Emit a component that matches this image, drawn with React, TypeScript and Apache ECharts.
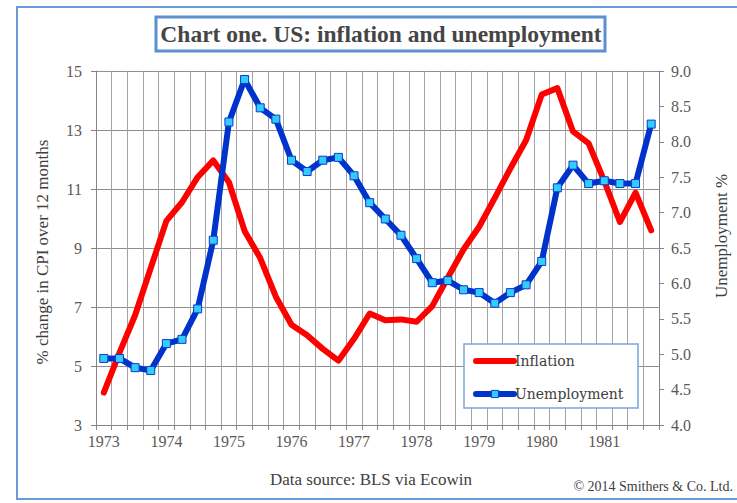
import React, { useEffect, useRef } from "react";
import * as echarts from "echarts";

const categories = [
  "1973 Q1", "1973 Q2", "1973 Q3", "1973 Q4",
  "1974 Q1", "1974 Q2", "1974 Q3", "1974 Q4",
  "1975 Q1", "1975 Q2", "1975 Q3", "1975 Q4",
  "1976 Q1", "1976 Q2", "1976 Q3", "1976 Q4",
  "1977 Q1", "1977 Q2", "1977 Q3", "1977 Q4",
  "1978 Q1", "1978 Q2", "1978 Q3", "1978 Q4",
  "1979 Q1", "1979 Q2", "1979 Q3", "1979 Q4",
  "1980 Q1", "1980 Q2", "1980 Q3", "1980 Q4",
  "1981 Q1", "1981 Q2", "1981 Q3", "1981 Q4",
];

const inflation = [
  4.1, 5.45, 6.72, 8.32, 9.92, 10.55, 11.4, 11.97, 11.23, 9.58, 8.66, 7.35,
  6.4, 6.04, 5.58, 5.18, 5.92, 6.78, 6.55, 6.58, 6.5, 7.03, 8.0, 8.95,
  9.72, 10.7, 11.7, 12.65, 14.2, 14.42, 12.95, 12.55, 11.27, 9.88, 10.88, 9.6,
];

const unemployment = [
  4.94, 4.94, 4.81, 4.77, 5.15, 5.21, 5.64, 6.61, 8.28, 8.88, 8.48, 8.32,
  7.74, 7.58, 7.74, 7.78, 7.52, 7.14, 6.91, 6.68, 6.35, 6.01, 6.04, 5.91,
  5.87, 5.72, 5.87, 5.98, 6.31, 7.35, 7.67, 7.41, 7.45, 7.41, 7.41, 8.25,
];

const leftTicks = { min: 3, max: 15, interval: 2 };
const rightTicks = { min: 4, max: 9, interval: 0.5 };

const titleText = "Chart one. US: inflation and unemployment";
const leftAxisName = "% change in CPI over 12 months";
const rightAxisName = "Unemployment %";
const sourceText = "Data source: BLS via Ecowin";
const copyrightText = "\u00a9 2014 Smithers & Co. Ltd.";

const SERIF = "'Liberation Serif', 'Times New Roman', serif";

export default function App() {
  const ref = useRef<HTMLDivElement>(null);

  useEffect(() => {
    if (!ref.current) return;
    const chart = echarts.init(ref.current, undefined, { renderer: "svg" });
    const axisText = { color: "#595959", fontFamily: SERIF, fontSize: 16 };
    chart.setOption({
      animation: false,
      backgroundColor: "#ffffff",
      grid: { left: 96, right: 78, top: 71, bottom: 78, containLabel: false },
      legend: {
        left: 473,
        top: 354,
        orient: "vertical",
        itemWidth: 38,
        itemHeight: 9,
        itemGap: 19,
        padding: 0,
        textStyle: { color: "#404040", fontFamily: "'DejaVu Serif', serif", fontSize: 14, padding: [0, 0, 0, -4] },
        data: [
          {
            name: "Inflation",
            itemStyle: { color: "rgba(0,0,0,0)", borderColor: "rgba(0,0,0,0)", borderWidth: 0 },
            lineStyle: { color: "#ff0000", width: 6, cap: "round" },
          },
          {
            name: "Unemployment",
            itemStyle: { color: "#33ccff", borderColor: "#0a3cc8", borderWidth: 1 },
            lineStyle: { color: "#0033cc", width: 6, cap: "round" },
          },
        ],
      },
      xAxis: {
        type: "category",
        data: categories,
        boundaryGap: true,
        axisLine: { lineStyle: { color: "#868686", width: 1 } },
        axisTick: { show: true, interval: 0, length: 5, lineStyle: { color: "#868686" } },
        splitLine: { show: true, interval: 0, lineStyle: { color: "#a3a3a3", width: 1 } },
        axisLabel: {
          interval: 3,
          margin: 8,
          ...axisText,
          formatter: (v: string) => v.slice(0, 4),
        },
      },
      yAxis: [
        {
          type: "value",
          min: leftTicks.min,
          max: leftTicks.max,
          interval: leftTicks.interval,
          axisLine: { show: true, lineStyle: { color: "#868686" } },
          axisTick: { show: true, length: 5, lineStyle: { color: "#868686" } },
          splitLine: { show: true, lineStyle: { color: "#8f8f8f", width: 1 } },
          axisLabel: { margin: 14, ...axisText },
        },
        {
          type: "value",
          position: "right",
          min: rightTicks.min,
          max: rightTicks.max,
          interval: rightTicks.interval,
          axisLine: { show: true, lineStyle: { color: "#868686" } },
          axisTick: { show: true, length: 5, lineStyle: { color: "#868686" } },
          splitLine: { show: false },
          axisLabel: {
            margin: 12,
            ...axisText,
            formatter: (v: number) => v.toFixed(1),
          },
        },
      ],
      series: [
        {
          name: "Inflation",
          type: "line",
          yAxisIndex: 0,
          data: inflation,
          symbol: "none",
          color: "#ff0000",
          lineStyle: { color: "#ff0000", width: 6, cap: "round", join: "round" },
          z: 2,
        },
        {
          name: "Unemployment",
          type: "line",
          yAxisIndex: 1,
          data: unemployment,
          symbol: "rect",
          symbolSize: 8,
          showAllSymbol: true,
          color: "#0033cc",
          lineStyle: { color: "#0033cc", width: 6, cap: "round", join: "round" },
          itemStyle: { color: "#33ccff", borderColor: "#0a3cc8", borderWidth: 1 },
          z: 3,
        },
      ],
      graphic: [
        {
          type: "rect",
          z: -1,
          shape: { x: 17, y: 7, width: 740, height: 492 },
          style: { fill: "none", stroke: "#6a9bd6", lineWidth: 2 },
        },
        {
          type: "rect",
          z: 5,
          shape: { x: 156, y: 17, width: 449, height: 34 },
          style: { fill: "#ffffff", stroke: "#5b8fd0", lineWidth: 3 },
        },
        {
          type: "text",
          z: 6,
          x: 381,
          y: 34,
          style: {
            text: titleText,
            fill: "#454545",
            fontFamily: SERIF,
            fontSize: 23.5,
            fontWeight: "bold",
            align: "center",
            verticalAlign: "middle",
          },
        },
        {
          type: "text",
          z: 6,
          x: 42,
          y: 252,
          rotation: Math.PI / 2,
          style: {
            text: leftAxisName,
            fill: "#404040",
            fontFamily: SERIF,
            fontSize: 17,
            align: "center",
            verticalAlign: "middle",
          },
        },
        {
          type: "text",
          z: 6,
          x: 721,
          y: 236,
          rotation: Math.PI / 2,
          style: {
            text: rightAxisName,
            fill: "#404040",
            fontFamily: SERIF,
            fontSize: 17,
            align: "center",
            verticalAlign: "middle",
          },
        },
        {
          type: "rect",
          z: 3,
          shape: { x: 464, y: 344, width: 174, height: 64 },
          style: { fill: "#ffffff", stroke: "#7aa7dc", lineWidth: 1.5 },
        },
        {
          type: "text",
          z: 6,
          x: 371,
          y: 479,
          style: {
            text: sourceText,
            fill: "#404040",
            fontFamily: SERIF,
            fontSize: 17,
            align: "center",
            verticalAlign: "middle",
          },
        },
        {
          type: "text",
          z: 6,
          x: 733,
          y: 486,
          style: {
            text: copyrightText,
            fill: "#404040",
            fontFamily: SERIF,
            fontSize: 14,
            align: "right",
            verticalAlign: "middle",
          },
        },
      ],
    });
    return () => chart.dispose();
  }, []);

  return (
    <div
      ref={ref}
      style={{ position: "fixed", left: 0, top: 0, width: 737, height: 503 }}
    />
  );
}
